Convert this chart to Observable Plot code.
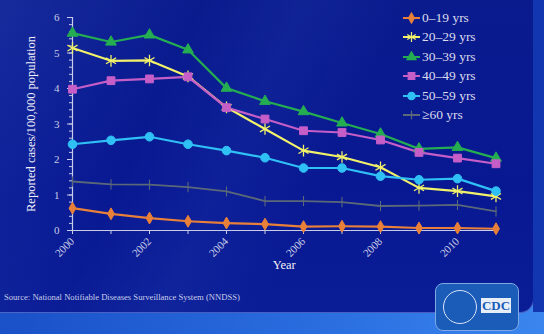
<!DOCTYPE html>
<html>
<head>
<meta charset="utf-8">
<script src="https://cdn.jsdelivr.net/npm/d3@7"></script>
<script src="https://cdn.jsdelivr.net/npm/@observablehq/plot@0.6"></script>
<style>
  html, body { margin: 0; padding: 0; }
  body {
    width: 544px; height: 334px; overflow: hidden; position: relative;
    background: linear-gradient(90deg, #1a50c8 0%, #2a6ee0 60%, #3a86ee 100%);
    font-family: "Liberation Serif", "DejaVu Serif", serif;
  }
  #panel {
    position: absolute; left: 0; top: 0; width: 533px; height: 312px;
    border-bottom-right-radius: 14px;
    background:
      linear-gradient(115deg, rgba(60,90,200,0.25) 0%, rgba(60,90,200,0.0) 30%, rgba(60,90,200,0.12) 45%, rgba(0,0,0,0) 60%),
      linear-gradient(180deg, #0a1b8e 0%, #081892 60%, #0a1d96 100%);
    border-right: 1px solid rgba(120,150,235,0.55);
    border-bottom: 1px solid rgba(120,150,235,0.55);
  }
  #strip { position: absolute; left: 533px; top: 0; width: 11px; height: 312px; background: #1236b0; }
  #chart { position: absolute; left: 0; top: 0; }
  #legend { position: absolute; left: 403px; top: 8px; color: #dcdcec; font-size: 13.5px; }
  #legend .item { height: 19.5px; display: flex; align-items: center; white-space: nowrap; }
  #legend svg { margin-right: 2px; }
  #source { position: absolute; left: 4px; top: 292px; font-size: 8.6px; color: #c8cde8; white-space: nowrap; }
  #logo {
    position: absolute; left: 435px; top: 283px; width: 82px; height: 46px;
    border: 1.5px solid #7fa8e6; border-radius: 8px; background: #1a5cb8;
  }
  #logo .seal { position: absolute; left: 7px; top: 6px; width: 32px; height: 32px; border-radius: 50%; border: 1px solid #d8e4f8; }
  #logo .cdc {
    position: absolute; left: 45px; top: 14px; width: 30px; height: 15px; background: #e8eef8; color: #1a5cb8;
    font: bold 13px "Liberation Serif", serif; text-align: center; line-height: 15px;
  }
</style>
</head>
<body>
<div id="panel"></div>
<div id="strip"></div>
<div id="chart"></div>
<div id="legend"></div>
<div id="source">Source: National Notifiable Diseases Surveillance System (NNDSS)</div>
<div id="logo"><div class="seal"></div><div class="cdc">CDC</div></div>
<script>
const years = [2000, 2001, 2002, 2003, 2004, 2005, 2006, 2007, 2008, 2009, 2010, 2011];
const groups = ["0\u201319 yrs", "20\u201329 yrs", "30\u201339 yrs", "40\u201349 yrs", "50\u201359 yrs", "\u226560 yrs"];
const age0to19  = [0.63, 0.47, 0.35, 0.26, 0.21, 0.18, 0.11, 0.12, 0.11, 0.07, 0.07, 0.05];
const age20to29 = [5.14, 4.78, 4.79, 4.34, 3.47, 2.86, 2.25, 2.07, 1.78, 1.20, 1.11, 0.96];
const age30to39 = [5.56, 5.31, 5.51, 5.09, 4.01, 3.64, 3.35, 3.03, 2.72, 2.30, 2.34, 2.04];
const age40to49 = [3.98, 4.22, 4.27, 4.33, 3.46, 3.14, 2.81, 2.76, 2.55, 2.20, 2.04, 1.88];
const age50to59 = [2.43, 2.54, 2.64, 2.43, 2.25, 2.05, 1.76, 1.76, 1.53, 1.43, 1.46, 1.11];
const age60plus = [1.38, 1.30, 1.29, 1.22, 1.10, 0.83, 0.83, 0.80, 0.69, 0.70, 0.72, 0.54];
const yTicks = [0, 1, 2, 3, 4, 5, 6];
const xTickLabels = [2000, 2002, 2004, 2006, 2008, 2010];

const seriesValues = [age0to19, age20to29, age30to39, age40to49, age50to59, age60plus];
const colors = ["#e8803a", "#f2f26a", "#25ad52", "#c65ec8", "#2fc0f5", "#5a6878"];
const vbar = { draw(ctx, size) { const r = Math.sqrt(size) * 0.9; ctx.moveTo(0, -r); ctx.lineTo(0, r); } };
const symbols = ["diamond", "asterisk", "triangle", "square", "circle", vbar];
const sizes = [3.6, 5.5, 4.0, 4.4, 4.3, 3.2];

const data = groups.flatMap((g, i) => years.map((yr, j) => ({group: g, year: yr, value: seriesValues[i][j]})));

const axisColor = "#c8cce6";
const dotMarks = groups.map((g, i) => Plot.dot(data.filter(d => d.group === g), {
  x: "year", y: "value", symbol: () => symbols[i], r: sizes[i],
  fill: colors[i], stroke: colors[i], strokeWidth: i === 1 ? 1.3 : i === 5 ? 1.1 : 1
}));

const chart = Plot.plot({
  width: 544, height: 280,
  marginLeft: 72, marginRight: 48.5, marginTop: 17, marginBottom: 50,
  style: { background: "transparent", fontFamily: "Liberation Serif, serif", color: axisColor },
  x: { domain: [2000, 2011] },
  y: { domain: [0, 6] },
  symbol: { type: "identity" },
  marks: [
    Plot.axisY({ ticks: d3.range(0, 6.01, 0.2), tickSize: 3, tickFormat: () => "", stroke: axisColor, label: null }),
    Plot.axisY({ ticks: yTicks, tickSize: 5, tickPadding: 8, tickFormat: d => String(d), fontSize: 11, stroke: axisColor,
      label: "Reported cases/100,000 population", labelAnchor: "center", labelArrow: "none", labelOffset: 46 }),
    Plot.axisX({ ticks: years, tickSize: 4, tickFormat: () => "", stroke: axisColor, label: null }),
    Plot.axisX({ ticks: xTickLabels, tickSize: 0, tickFormat: d => String(d), tickRotate: -45, fontSize: 11, tickPadding: 9,
      label: "Year", labelAnchor: "center", labelArrow: "none", labelOffset: 38 }),
    Plot.ruleX([2000], { stroke: axisColor, strokeWidth: 1.2 }),
    Plot.ruleY([0], { stroke: axisColor, strokeWidth: 1.2 }),
    ...groups.map((g, i) => Plot.line(data.filter(d => d.group === g), {
      x: "year", y: "value", stroke: colors[i], strokeWidth: i === 5 ? 1.8 : 2.2
    })),
    ...dotMarks
  ]
});
document.getElementById("chart").appendChild(chart);

// style axis labels
d3.select(chart).selectAll("[aria-label='y-axis label'] text, [aria-label='x-axis label'] text")
  .attr("fill", "#f0f0f8").attr("font-size", 12.5);

// legend
const legend = d3.select("#legend");
groups.forEach((g, i) => {
  const item = legend.append("div").attr("class", "item");
  const svg = item.append("svg").attr("width", 17).attr("height", 12);
  svg.append("line").attr("x1", 0).attr("x2", 17).attr("y1", 6).attr("y2", 6)
    .attr("stroke", colors[i]).attr("stroke-width", 2);
  const sym = typeof symbols[i] === "string" ? d3[{diamond: "symbolDiamond", asterisk: "symbolAsterisk", triangle: "symbolTriangle", square: "symbolSquare", circle: "symbolCircle"}[symbols[i]]] : symbols[i];
  const r = sizes[i] * 0.85;
  svg.append("path").attr("transform", "translate(8.5,6)")
    .attr("d", d3.symbol(sym, Math.PI * r * r)())
    .attr("fill", colors[i]).attr("stroke", colors[i]).attr("stroke-width", 1.2);
  item.append("span").text(g);
});
</script>
</body>
</html>
